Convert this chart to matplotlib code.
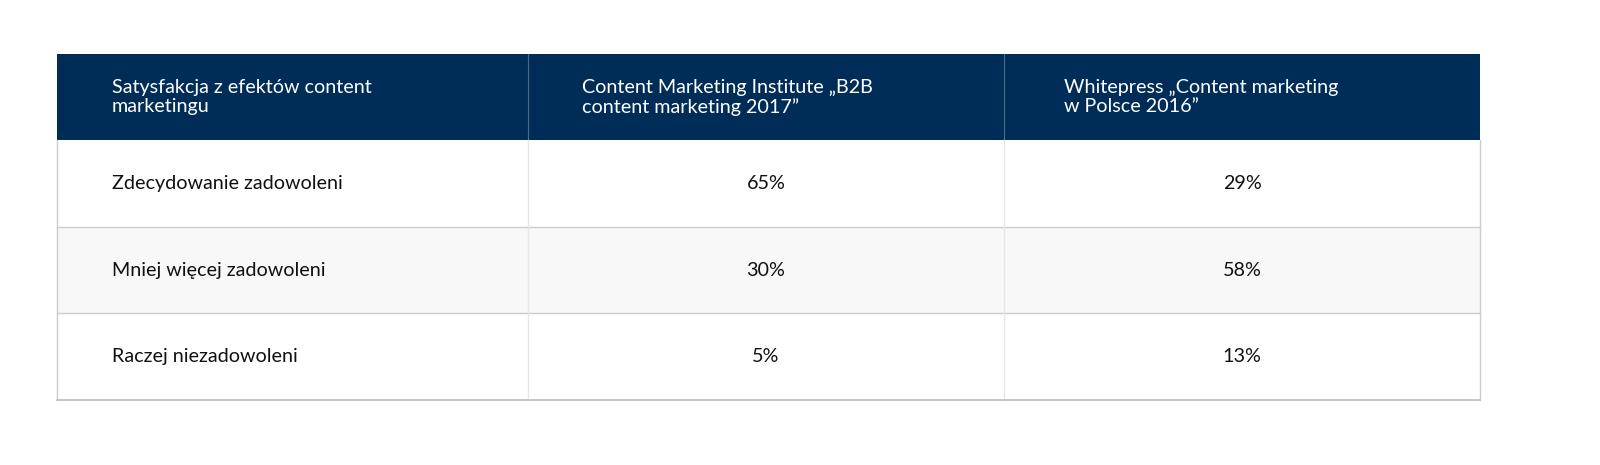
import matplotlib
matplotlib.use("Agg")
import matplotlib.pyplot as plt
from matplotlib.patches import Rectangle

headers = ["Satysfakcja z efektów content\nmarketingu",
           "Content Marketing Institute „B2B\ncontent marketing 2017”",
           "Whitepress „Content marketing\nw Polsce 2016”"]
categories = ["Zdecydowanie zadowoleni", "Mniej więcej zadowoleni", "Raczej niezadowoleni"]
cmi_values = ["65%", "30%", "5%"]
whitepress_values = ["29%", "58%", "13%"]

W, H = 1600, 465
fig = plt.figure(figsize=(W / 100, H / 100), dpi=100)
ax = fig.add_axes([0, 0, 1, 1])
ax.set_xlim(0, W)
ax.set_ylim(H, 0)
ax.axis("off")

col_x = [57, 528, 1004, 1480]
row_y = [54, 140, 227, 313, 400]
navy = "#002d57"
font = ["Lato", "DejaVu Sans"]
fs = 14.2

# header
ax.add_patch(Rectangle((col_x[0], row_y[0]), col_x[3] - col_x[0], row_y[1] - row_y[0],
                       facecolor=navy, edgecolor="none"))
for x in col_x[1:3]:
    ax.plot([x, x], [row_y[0], row_y[1]], color="#4a6a8a", lw=0.8)
text_x = [112, 582, 1064]
for x, h in zip(text_x, headers):
    ax.text(x, (row_y[0] + row_y[1]) / 2, h, color="white", fontsize=fs,
            family=font, va="center", ha="left", linespacing=1.15)

# body
for i, (cat, a, b) in enumerate(zip(categories, cmi_values, whitepress_values)):
    y0, y1 = row_y[i + 1], row_y[i + 2]
    fc = "#f8f8f8" if i == 1 else "white"
    ax.add_patch(Rectangle((col_x[0], y0), col_x[3] - col_x[0], y1 - y0,
                           facecolor=fc, edgecolor="none"))
    ym = (y0 + y1) / 2
    ax.text(112, ym, cat, fontsize=fs, family=font, va="center", ha="left", color="#111111")
    ax.text((col_x[1] + col_x[2]) / 2, ym, a, fontsize=fs, family=font, va="center", ha="center", color="#111111")
    ax.text((col_x[2] + col_x[3]) / 2, ym, b, fontsize=fs, family=font, va="center", ha="center", color="#111111")

for y in row_y[2:4]:
    ax.plot([col_x[0], col_x[3]], [y, y], color="#cccccc", lw=1)
for x in col_x[1:3]:
    ax.plot([x, x], [row_y[1], row_y[4]], color="#e6e6e6", lw=1)
ax.plot([col_x[0], col_x[0]], [row_y[1], row_y[4]], color="#cccccc", lw=1)
ax.plot([col_x[3], col_x[3]], [row_y[1], row_y[4]], color="#cccccc", lw=1)
ax.plot([col_x[0], col_x[3]], [row_y[4], row_y[4]], color="#bbbbbb", lw=1.2)

fig.savefig("out.png", dpi=100)
